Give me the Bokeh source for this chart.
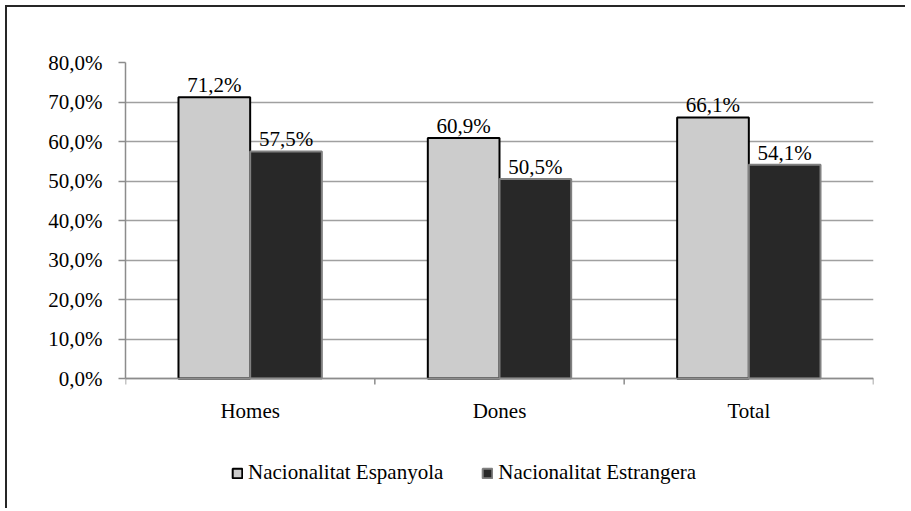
import math
from bokeh.plotting import figure
from bokeh.models import FixedTicker, Legend, LegendItem, ColumnDataSource, Range1d, Span
from bokeh.core.properties import value
from bokeh.embed import file_html
from bokeh.resources import INLINE

categories = ["Homes", "Dones", "Total"]
series_names = ["Nacionalitat Espanyola", "Nacionalitat Estrangera"]
espanyola = [71.2, 60.9, 66.1]
estrangera = [57.5, 50.5, 54.1]
y_ticks = [0, 10, 20, 30, 40, 50, 60, 70, 80]
y_tick_labels = ["0,0%", "10,0%", "20,0%", "30,0%", "40,0%", "50,0%", "60,0%", "70,0%", "80,0%"]

FONT = "Liberation Serif"
FS = "21px"

# layout (pixels)
W, H = 900, 503
TOP, LEFT, RIGHT = 55, 118, 34
ZERO_PX = 371            # canvas y of the 0% line
y_max = 80
y_min = -y_max * (H - ZERO_PX) / (ZERO_PX - TOP)

p = figure(width=W, height=H, output_backend="svg", toolbar_location=None,
           x_axis_location=None,
           x_range=Range1d(0, len(categories)), y_range=Range1d(y_min, y_max))
p.styles = {"border-left": "2px solid #262626", "border-top": "2px solid #262626",
            "margin-left": "5px", "margin-top": "5px"}
p.min_border_left = LEFT
p.min_border_top = TOP
p.min_border_right = RIGHT
p.min_border_bottom = 0
p.outline_line_color = None
p.background_fill_color = "white"
p.border_fill_color = "white"

# grid
p.xgrid.grid_line_color = None
p.ygrid.ticker = FixedTicker(ticks=y_ticks)
p.ygrid.grid_line_color = "#a0a0a0"
p.ygrid.grid_line_width = 1.5

# x axis line, boundary ticks and category labels
p.add_layout(Span(location=0, dimension="width", line_color="#8c8c8c", line_width=1.5))
bounds = list(range(len(categories) + 1))
p.ray(x=bounds, y=[0] * len(bounds), length=6, length_units="screen",
      angle=-math.pi / 2, line_color="#8c8c8c", line_width=1.5)
centers = [i + 0.5 for i in range(len(categories))]
p.text(x=centers, y=[0] * len(centers), text=categories, text_align="center",
       text_baseline="top", y_offset=20, text_font=value(FONT),
       text_font_size=FS, text_color="#000000")

bw = 0.2875
src1 = ColumnDataSource(dict(x=[c - bw / 2 for c in centers], top=espanyola,
                             lab=[f"{v:.1f}%".replace(".", ",") for v in espanyola]))
src2 = ColumnDataSource(dict(x=[c + bw / 2 for c in centers], top=estrangera,
                             lab=[f"{v:.1f}%".replace(".", ",") for v in estrangera]))

r1 = p.vbar(x="x", top="top", width=bw, bottom=0, source=src1,
            fill_color="#cccccc", line_color="#000000", line_width=2)
r2 = p.vbar(x="x", top="top", width=bw, bottom=0, source=src2,
            fill_color="#282828", line_color="#808080", line_width=2)

for s in (src1, src2):
    p.text(x="x", y="top", text="lab", source=s, text_align="center",
           text_baseline="alphabetic", y_offset=-12,
           text_font=value(FONT), text_font_size=FS, text_color="#000000")

# y axis
yax = p.yaxis[0]
yax.bounds = (0, y_max)
yax.ticker = FixedTicker(ticks=y_ticks)
yax.major_label_overrides = {t: l for t, l in zip(y_ticks, y_tick_labels)}
yax.axis_line_color = "#8c8c8c"
yax.axis_line_width = 1.5
yax.major_tick_line_color = "#8c8c8c"
yax.major_tick_line_width = 1.5
yax.major_tick_out = 7
yax.major_tick_in = 0
yax.minor_tick_line_color = None
yax.major_label_standoff = 16
yax.major_label_text_font = FONT
yax.major_label_text_font_size = FS
yax.major_label_text_color = "#000000"

legend = Legend(items=[LegendItem(label=series_names[0], renderers=[r1]),
                       LegendItem(label=series_names[1], renderers=[r2])],
                orientation="horizontal", location=(106, 25),
                glyph_width=12, glyph_height=12, label_standoff=5, spacing=38,
                padding=0, margin=0, border_line_color=None,
                background_fill_alpha=0,
                label_text_font=FONT, label_text_font_size=FS,
                label_text_color="#000000")
p.add_layout(legend, "center")

open("out.html", "w").write(file_html(p, INLINE))
